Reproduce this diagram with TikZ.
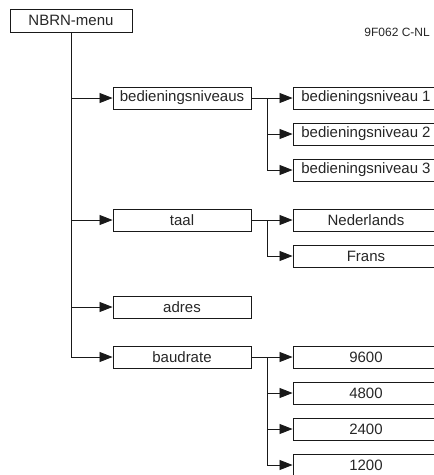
\documentclass[tikz,border=0pt]{standalone}
\usepackage{fontspec}
\setmainfont{Liberation Sans}
\usetikzlibrary{arrows.meta}
\begin{document}
\begin{tikzpicture}[x=1pt,y=-1pt,
  box/.style={draw=black!90, line width=0.9pt, inner sep=0pt, minimum height=22pt,
    text=black!85, font=\fontsize{15}{17}\selectfont},
  lbox/.style={box, minimum width=138pt},
  rbox/.style={box, minimum width=146pt},
  conn/.style={draw=black!90, line width=0.8pt},
  arr/.style={conn, -{Triangle[length=13pt,width=10pt]}}]
\useasboundingbox (0,0) rectangle (434,475);
\clip (0,0) rectangle (434,475);
\node[box, minimum width=122pt, minimum height=23pt] (menu) at (71,20.5) {NBRN-menu};
\node[anchor=base east, inner sep=0pt, text=black!85, font=\fontsize{12}{14}\selectfont] (code) at (430,36) {9F062 C-NL};
\node[lbox] (bn) at (182,98) {bedieningsniveaus};
\node[lbox] (taal) at (182,220) {taal};
\node[lbox] (adres) at (182,307) {adres};
\node[lbox] (baud) at (182,357) {baudrate};
\node[rbox] (b1) at (366,98) {bedieningsniveau 1};
\node[rbox] (b2) at (366,134) {bedieningsniveau 2};
\node[rbox] (b3) at (366,170) {bedieningsniveau 3};
\node[rbox] (ned) at (366,220) {Nederlands};
\node[rbox] (frans) at (366,256) {Frans};
\node[rbox] (r9600) at (366,357) {9600};
\node[rbox] (r4800) at (366,393) {4800};
\node[rbox] (r2400) at (366,429) {2400};
\node[rbox] (r1200) at (366,465) {1200};
% trunk
\draw[arr] (menu.south) |- (baud.west);
\draw[arr] (menu.south |- bn.west) -- (bn.west);
\draw[arr] (menu.south |- taal.west) -- (taal.west);
\draw[arr] (menu.south |- adres.west) -- (adres.west);
% bedieningsniveaus
\draw[arr] (bn.east) -- (b1.west);
\draw[arr] ([xshift=16pt]bn.east) |- (b3.west);
\draw[arr] ([xshift=16pt]bn.east |- b2.west) -- (b2.west);
% taal
\draw[arr] (taal.east) -- (ned.west);
\draw[arr] ([xshift=16pt]taal.east) |- (frans.west);
% baudrate
\draw[arr] (baud.east) -- (r9600.west);
\draw[arr] ([xshift=16pt]baud.east) |- (r1200.west);
\draw[arr] ([xshift=16pt]baud.east |- r4800.west) -- (r4800.west);
\draw[arr] ([xshift=16pt]baud.east |- r2400.west) -- (r2400.west);
\end{tikzpicture}
\end{document}
